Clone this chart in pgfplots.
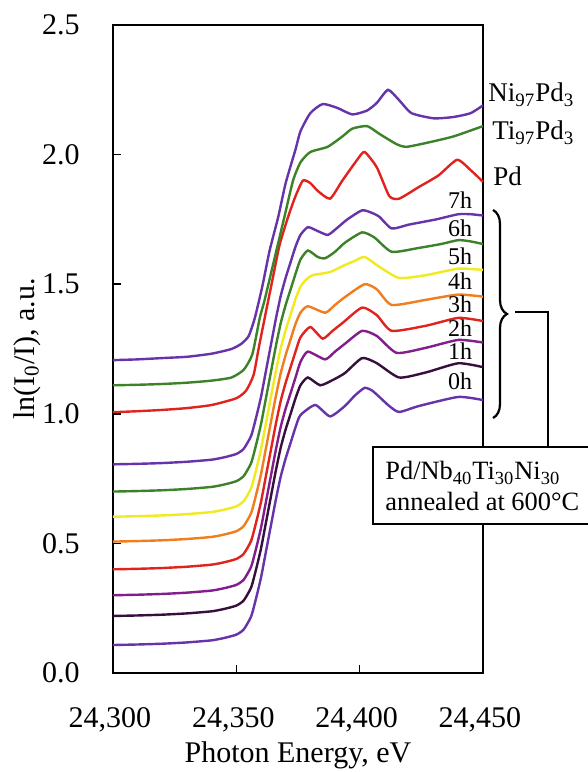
\documentclass[border=0pt]{standalone}
\usepackage{fontspec}
\setmainfont{Liberation Serif}
\usepackage{pgfplots}
\pgfplotsset{compat=1.18}
\usetikzlibrary{decorations.pathreplacing}

\definecolor{cpurple}{RGB}{102,51,170}
\definecolor{cgreen}{RGB}{60,130,40}
\definecolor{cred}{RGB}{225,35,30}
\definecolor{cyellow}{RGB}{240,235,30}
\definecolor{corange}{RGB}{240,125,30}
\definecolor{cmagenta}{RGB}{130,30,140}
\definecolor{cdark}{RGB}{55,15,60}

\begin{document}
\begin{tikzpicture}
\fill[white] (-56.5pt,-49.5pt) rectangle (237.5pt,336.5pt);
\useasboundingbox (-56.5pt,-49.5pt) rectangle (237.5pt,336.5pt);
\begin{axis}[
    scale only axis,
    width=185pt, height=324pt,
    xmin=24300, xmax=24450,
    ymin=0, ymax=2.5,
    xtick={24300,24350,24400,24450},
    xticklabels={{24,300},{24,350},{24,400},{24,450}},
    ytick={0,0.5,1,1.5,2,2.5},
    yticklabels={0.0,0.5,1.0,1.5,2.0,2.5},
    tick align=inside,
    xtick pos=bottom, ytick pos=left,
    major tick length=4pt,
    axis line style={line width=1pt},
    tick style={line width=0.8pt, black},
    ticklabel style={font=\fontsize{15}{18}\selectfont},
    xticklabel style={anchor=base, yshift=-27pt, xshift=-1.5pt},
    yticklabel style={anchor=east, inner sep=0pt, xshift=-16.5pt},
    xlabel={Photon Energy, eV},
    ylabel={ln(I\textsubscript{0}/I), a.u.},
    label style={font=\fontsize{15}{18}\selectfont},
    xlabel style={at={(axis description cs:0.5,0)}, anchor=base, inner sep=0.5pt, yshift=-44.5pt},
    ylabel style={at={(axis description cs:-0.2324,0.5)}, anchor=center},
    clip=false,
    every axis plot/.append style={line width=1.2pt, no markers, smooth, tension=0.35},
]
% 0h
\addplot[cpurple] coordinates {
(24300,0.108)(24310,0.110)(24320,0.113)(24330,0.118)(24340,0.126)(24345,0.135)(24350,0.148)(24353,0.168)(24356,0.218)(24358,0.288)(24360,0.368)(24362,0.468)(24364,0.568)(24366,0.668)(24368,0.758)(24370,0.828)(24372,0.888)(24374,0.948)(24376,0.995)(24382,1.034)(24388,0.99)(24394,1.03)(24398,1.07)(24402,1.10)(24405,1.09)(24408,1.065)(24412,1.03)(24416,1.007)(24424,1.03)(24440,1.065)(24450,1.053)
};
% 1h
\addplot[cdark] coordinates {
(24300,0.220)(24310,0.222)(24320,0.225)(24330,0.230)(24340,0.238)(24345,0.247)(24350,0.260)(24353,0.280)(24356,0.330)(24358,0.400)(24360,0.480)(24362,0.580)(24364,0.680)(24366,0.780)(24368,0.870)(24370,0.940)(24372,1.000)(24374,1.060)(24376,1.11)(24379,1.14)(24384,1.11)(24389,1.13)(24394,1.157)(24401,1.215)(24407,1.195)(24416,1.14)(24427,1.16)(24440,1.195)(24450,1.18)
};
% 2h
\addplot[cmagenta] coordinates {
(24300,0.300)(24310,0.302)(24320,0.305)(24330,0.310)(24340,0.318)(24345,0.327)(24350,0.340)(24353,0.360)(24356,0.410)(24358,0.480)(24360,0.560)(24362,0.660)(24364,0.760)(24366,0.860)(24368,0.950)(24370,1.020)(24372,1.080)(24374,1.140)(24376,1.20)(24379,1.24)(24386,1.21)(24390,1.24)(24394,1.27)(24401,1.32)(24407,1.30)(24415,1.235)(24427,1.255)(24440,1.285)(24450,1.275)
};
% 3h
\addplot[cred] coordinates {
(24300,0.400)(24310,0.402)(24320,0.405)(24330,0.410)(24340,0.418)(24345,0.427)(24350,0.440)(24353,0.460)(24356,0.510)(24358,0.580)(24360,0.660)(24362,0.760)(24364,0.860)(24366,0.960)(24368,1.050)(24370,1.120)(24372,1.180)(24374,1.240)(24376,1.295)(24380,1.335)(24385,1.29)(24389,1.32)(24393,1.35)(24401,1.41)(24407,1.38)(24413,1.32)(24427,1.34)(24440,1.37)(24450,1.358)
};
% 4h
\addplot[corange] coordinates {
(24300,0.507)(24310,0.509)(24320,0.512)(24330,0.517)(24340,0.525)(24345,0.534)(24350,0.547)(24353,0.567)(24356,0.617)(24358,0.687)(24360,0.767)(24362,0.867)(24364,0.967)(24366,1.067)(24368,1.157)(24370,1.227)(24372,1.287)(24374,1.347)(24376,1.39)(24379,1.415)(24386,1.39)(24390,1.42)(24394,1.45)(24402,1.50)(24407,1.48)(24413,1.42)(24427,1.44)(24440,1.46)(24450,1.452)
};
% 5h
\addplot[cyellow] coordinates {
(24300,0.603)(24310,0.605)(24320,0.608)(24330,0.613)(24340,0.621)(24345,0.630)(24350,0.643)(24353,0.663)(24356,0.713)(24358,0.783)(24360,0.863)(24362,0.963)(24364,1.063)(24366,1.163)(24368,1.253)(24370,1.323)(24372,1.383)(24374,1.443)(24376,1.49)(24378,1.515)(24381,1.535)(24388,1.547)(24394,1.574)(24398,1.59)(24402,1.605)(24408,1.567)(24416,1.524)(24427,1.535)(24440,1.56)(24450,1.555)
};
% 6h
\addplot[cgreen] coordinates {
(24300,0.700)(24310,0.702)(24320,0.705)(24330,0.710)(24340,0.718)(24345,0.727)(24350,0.740)(24353,0.760)(24356,0.810)(24358,0.880)(24360,0.960)(24362,1.060)(24364,1.160)(24366,1.260)(24368,1.350)(24370,1.420)(24372,1.480)(24374,1.540)(24376,1.595)(24379,1.63)(24383,1.605)(24386,1.60)(24390,1.625)(24394,1.66)(24401,1.70)(24406,1.68)(24413,1.625)(24424,1.64)(24433,1.655)(24440,1.67)(24445,1.665)(24450,1.655)
};
% 7h
\addplot[cpurple] coordinates {
(24300,0.805)(24310,0.807)(24320,0.810)(24330,0.815)(24340,0.823)(24345,0.832)(24350,0.845)(24353,0.865)(24356,0.915)(24358,0.985)(24360,1.065)(24362,1.165)(24364,1.265)(24366,1.365)(24368,1.455)(24370,1.525)(24372,1.585)(24374,1.645)(24376,1.69)(24379,1.72)(24383,1.705)(24387,1.69)(24390,1.71)(24395,1.75)(24401,1.785)(24405,1.775)(24408,1.76)(24413,1.715)(24420,1.73)(24431,1.75)(24440,1.77)(24445,1.77)(24450,1.765)
};
% Pd
\addplot[cred] coordinates {
(24300,1.006)(24310,1.01)(24320,1.015)(24330,1.022)(24340,1.034)(24350,1.06)(24354,1.09)(24357,1.15)(24359,1.25)(24361.5,1.37)(24364.5,1.51)(24367.5,1.65)(24371,1.76)(24374,1.84)(24377,1.90)(24380,1.89)(24383,1.86)(24388,1.83)(24393,1.90)(24399,1.98)(24402,2.01)(24407,1.95)(24412,1.84)(24416,1.83)(24424,1.875)(24432,1.92)(24439.5,1.98)(24445,1.94)(24450,1.895)
};
% Ti97Pd3
\addplot[cgreen] coordinates {
(24300,1.11)(24310,1.112)(24320,1.115)(24330,1.12)(24340,1.128)(24348,1.14)(24353,1.17)(24356.5,1.23)(24359.5,1.37)(24361.5,1.44)(24365.5,1.60)(24369.5,1.76)(24373,1.90)(24376,1.97)(24380,2.01)(24387,2.03)(24393,2.07)(24397,2.10)(24403,2.11)(24408,2.08)(24415,2.04)(24419,2.03)(24427,2.045)(24438,2.07)(24450,2.11)
};
% Ni97Pd3
\addplot[cpurple] coordinates {
(24300,1.207)(24310,1.21)(24320,1.215)(24330,1.22)(24340,1.232)(24348,1.25)(24352,1.27)(24355,1.30)(24357.5,1.37)(24360.5,1.49)(24363.5,1.63)(24367,1.76)(24370,1.89)(24374,2.02)(24376,2.09)(24380,2.16)(24385,2.195)(24391,2.18)(24397,2.155)(24403,2.17)(24407,2.20)(24411.5,2.25)(24416,2.21)(24421,2.16)(24430,2.14)(24438,2.145)(24445,2.16)(24450,2.19)
};
\end{axis}

% curve labels
\begin{scope}[font=\fontsize{13.5}{16}\selectfont, inner sep=0pt]
\node[anchor=base west] at (187.5pt,285.5pt) {Ni\textsubscript{97}Pd\textsubscript{3}};
\node[anchor=base west] at (189.5pt,266.5pt) {Ti\textsubscript{97}Pd\textsubscript{3}};
\node[anchor=base west] at (190pt,243.5pt) {Pd};
\end{scope}
\begin{scope}[font=\fontsize{12}{14}\selectfont, inner sep=0pt]
\node[anchor=base] at (173.5pt,232pt) {7h};
\node[anchor=base] at (173.5pt,218pt) {6h};
\node[anchor=base] at (173.5pt,204pt) {5h};
\node[anchor=base] at (173.5pt,191.5pt) {4h};
\node[anchor=base] at (173.5pt,180pt) {3h};
\node[anchor=base] at (173.5pt,168pt) {2h};
\node[anchor=base] at (173.5pt,156.5pt) {1h};
\node[anchor=base] at (173.5pt,141.5pt) {0h};
\end{scope}

% brace and connector
\draw[line width=1.1pt, decorate, decoration={brace, amplitude=7pt}] (190pt,231.5pt) -- (190pt,127.5pt);
\draw[line width=1pt] (201pt,180.5pt) -- (217.5pt,180.5pt) -- (217.5pt,113pt);

% annotation box
\draw[line width=1pt, fill=white] (240pt,113pt) -- (130pt,113pt) -- (130pt,74.5pt) -- (240pt,74.5pt);
\begin{scope}[font=\fontsize{13.2}{15}\selectfont, inner sep=0pt]
\node[anchor=base west] at (136pt,96.5pt) {Pd/Nb\textsubscript{40}Ti\textsubscript{30}Ni\textsubscript{30}};
\node[anchor=base west] at (136pt,81.2pt) {annealed at 600°C};
\end{scope}
\end{tikzpicture}
\end{document}
